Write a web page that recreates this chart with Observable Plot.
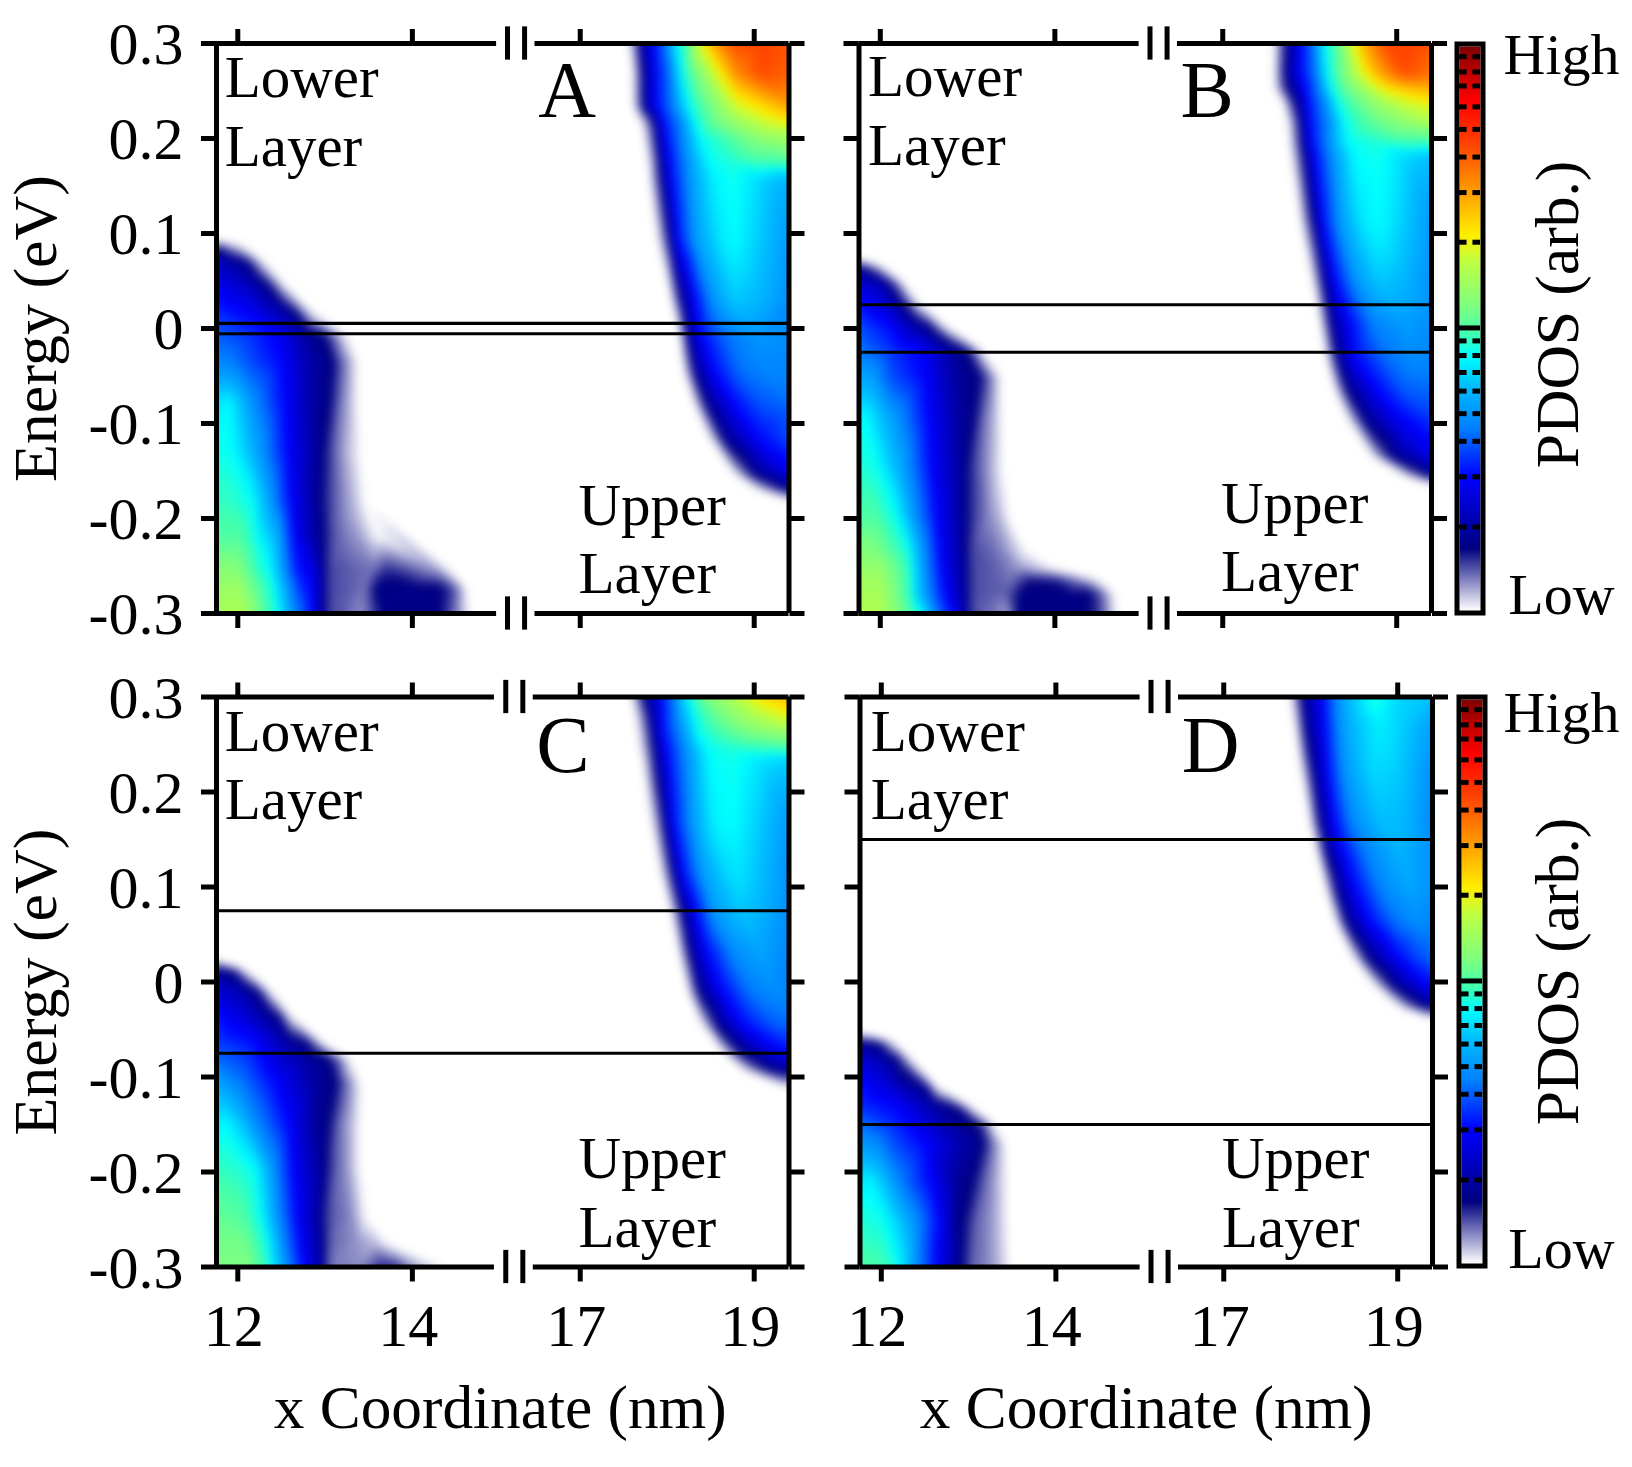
<!DOCTYPE html>
<html><head><meta charset="utf-8">
<script src="https://cdn.jsdelivr.net/npm/d3@7"></script>
<script src="https://cdn.jsdelivr.net/npm/@observablehq/plot@0.6"></script>
<style>html,body{margin:0;background:#fff}#page{position:relative;width:1632px;height:1467px;overflow:hidden;background:#fff}svg{position:absolute;background:transparent!important}</style>
</head><body><div id="page"></div>
<script>
// Each row: [energy (eV), x (nm), PDOS, x, PDOS, ...]; PDOS is the position on the colour bar (0..1)
const lowerA=[
[.092,11.75,0],
[.088,11.75,.08,11.84,.06,11.91,.03,12.03,0],
[.070,11.75,.19,11.91,.15,12.11,.11,12.20,.06,12.30,0],
[.046,11.75,.22,12.0,.19,12.22,.15,12.35,.11,12.43,.06,12.54,0],
[.014,11.75,.27,12.18,.23,12.53,.16,12.70,.11,12.77,.06,12.90,0],
[-.007,11.75,.30,12.14,.27,12.45,.23,12.79,.14,12.98,.11,13.10,.06,13.25,0],
[-.035,11.75,.33,11.88,.33,12.07,.30,12.49,.24,12.83,.15,13.10,.11,13.15,.08,13.33,.02,13.36,0],
[-.077,11.75,.42,11.88,.45,12.03,.40,12.18,.34,12.53,.24,12.83,.15,13.06,.11,13.17,.06,13.29,.03,13.36,0],
[-.13,11.75,.46,11.95,.45,12.22,.37,12.56,.24,12.98,.115,13.06,.08,13.21,.04,13.40,0],
[-.182,11.75,.48,11.92,.48,12.18,.45,12.37,.36,12.60,.24,12.94,.12,13.02,.09,13.21,.05,13.38,.02,13.44,0],
[-.218,11.75,.50,12.03,.50,12.20,.46,12.45,.38,12.64,.24,12.87,.15,13.00,.11,13.06,.08,13.21,.06,13.40,.04,13.60,0],
[-.253,11.75,.55,11.99,.55,12.26,.47,12.37,.45,12.54,.34,12.68,.25,12.83,.22,13.00,.12,13.04,.08,13.29,.07,13.55,.06,13.71,.09,13.97,.07,14.28,.04,14.42,0],
[-.274,11.75,.57,12.0,.58,12.30,.49,12.42,.45,12.58,.35,12.72,.27,12.85,.23,13.0,.12,13.04,.08,13.29,.07,13.46,.06,13.59,.115,13.97,.12,14.32,.115,14.43,.09,14.54,.05,14.62,0],
[-.30,11.75,.59,12.03,.60,12.32,.50,12.47,.45,12.60,.36,12.75,.30,12.83,.24,13.00,.12,13.04,.08,13.21,.07,13.40,.05,13.48,.06,13.67,.115,14.28,.115,14.43,.08,14.55,.04,14.65,0]];
const upperA=[
[.30,17.56,0,17.63,.06,17.68,.11,17.76,.18,17.86,.24,17.99,.33,18.10,.44,18.22,.50,18.41,.66,18.56,.75,18.76,.82,19.06,.83,19.42,.81],
[.269,17.61,0,17.66,.06,17.72,.11,17.87,.24,18.03,.32,18.14,.43,18.22,.48,18.45,.58,18.60,.66,18.79,.76,19.06,.82,19.42,.80],
[.234,17.61,0,17.68,.07,17.74,.13,17.86,.23,18.07,.33,18.20,.42,18.30,.47,18.60,.56,18.79,.63,18.99,.665,19.42,.74],
[.217,17.70,0,17.80,.07,17.86,.12,17.95,.24,18.18,.35,18.32,.45,18.53,.52,18.83,.58,19.14,.63,19.42,.66],
[.199,17.74,0,17.82,.06,17.88,.12,17.99,.24,18.22,.36,18.39,.45,18.68,.49,19.06,.55,19.42,.58],
[.175,17.78,0,17.86,.06,17.91,.12,18.03,.24,18.26,.36,18.49,.45,18.76,.47,19.06,.49,19.42,.50],
[.157,17.80,0,17.87,.06,17.94,.12,18.05,.24,18.28,.36,18.53,.44,18.76,.46,19.06,.42,19.42,.38],
[.094,17.89,0,17.97,.06,18.03,.12,18.12,.24,18.33,.36,18.60,.43,18.76,.45,19.06,.41,19.42,.35],
[.031,18.05,0,18.10,.06,18.16,.12,18.32,.24,18.53,.35,18.76,.41,19.06,.39,19.42,.34],
[-.011,18.16,0,18.20,.08,18.26,.14,18.41,.24,18.68,.31,19.06,.35,19.42,.34],
[-.046,18.20,0,18.26,.06,18.32,.12,18.55,.24,18.83,.31,19.14,.33,19.42,.33],
[-.081,18.32,0,18.39,.06,18.47,.12,18.79,.24,19.06,.29,19.42,.31],
[-.116,18.49,0,18.58,.06,18.66,.12,19.06,.24,19.42,.29],
[-.152,18.76,0,18.87,.06,18.99,.12,19.42,.22],
[-.169,19.02,0,19.18,.06,19.29,.10,19.42,.13],
[-.181,19.42,0]];
const lowerB=[
[.0726,11.75,0],
[.065,11.75,.13,11.92,.06,12.03,0],
[.047,11.75,.20,11.99,.17,12.11,.11,12.20,.06,12.28,0],
[.026,11.75,.25,12.11,.18,12.26,.11,12.35,.06,12.45,0],
[.002,11.75,.29,12.11,.24,12.41,.15,12.58,.11,12.66,.06,12.75,0],
[-.023,11.75,.32,12.14,.27,12.49,.23,12.87,.13,12.98,.11,13.08,.06,13.17,0],
[-.051,11.75,.37,11.92,.36,12.07,.30,12.49,.24,12.83,.15,13.14,.11,13.21,.08,13.34,.02,13.38,0],
[-.093,11.75,.44,11.84,.45,12.07,.38,12.22,.34,12.54,.24,12.87,.15,13.08,.11,13.19,.06,13.31,.03,13.38,0],
[-.146,11.75,.47,11.95,.46,12.22,.38,12.58,.24,12.98,.12,13.04,.09,13.25,.04,13.40,0],
[-.198,11.75,.50,11.95,.50,12.20,.45,12.37,.36,12.64,.24,12.98,.12,13.04,.09,13.25,.05,13.42,.02,13.46,0],
[-.233,11.75,.55,11.95,.54,12.32,.46,12.45,.37,12.68,.24,13.0,.11,13.04,.08,13.33,.06,13.55,.025,13.66,0],
[-.254,11.75,.57,12.0,.57,12.32,.48,12.47,.37,12.68,.25,13.0,.12,13.04,.08,13.30,.07,13.55,.05,13.80,.03,14.03,0],
[-.265,11.75,.58,12.0,.58,12.32,.485,12.47,.375,12.69,.255,13.0,.12,13.04,.08,13.30,.07,13.50,.06,13.75,.105,14.05,.095,14.32,.05,14.50,0],
[-.279,11.75,.59,12.0,.59,12.32,.49,12.47,.38,12.7,.26,13.0,.12,13.04,.08,13.30,.07,13.46,.07,13.62,.115,14.1,.115,14.40,.11,14.50,.08,14.60,.04,14.68,0],
[-.30,11.75,.60,12.0,.60,12.35,.50,12.48,.45,12.62,.34,12.75,.27,12.85,.23,13.0,.12,13.04,.08,13.30,.06,13.45,.04,13.60,.115,14.25,.115,14.45,.10,14.60,.05,14.70,0]];
const upperB=[
[.30,17.59,0,17.66,.06,17.73,.11,17.90,.24,18.06,.33,18.15,.44,18.29,.50,18.52,.66,18.67,.75,18.86,.82,19.17,.83,19.42,.81],
[.269,17.60,0,17.66,.07,17.73,.12,17.90,.24,18.08,.33,18.17,.43,18.29,.49,18.52,.60,18.63,.66,18.82,.74,19.09,.82,19.42,.78],
[.252,17.60,0,17.70,.08,17.79,.13,17.96,.24,18.13,.35,18.25,.45,18.36,.50,18.63,.58,18.79,.64,18.88,.665,19.09,.70,19.42,.72],
[.238,17.70,0,17.77,.07,17.85,.12,17.98,.24,18.19,.35,18.31,.45,18.52,.51,18.82,.58,19.09,.63,19.42,.665],
[.217,17.75,0,17.83,.06,17.89,.12,18.0,.24,18.24,.35,18.39,.45,18.71,.51,19.09,.56,19.42,.60],
[.196,17.77,0,17.85,.06,17.91,.12,18.02,.24,18.25,.36,18.44,.45,18.79,.47,19.09,.49,19.42,.49],
[.182,17.79,0,17.87,.06,17.94,.12,18.06,.24,18.29,.36,18.52,.45,18.79,.46,19.09,.42,19.42,.40],
[.112,17.90,0,17.97,.06,18.05,.12,18.15,.24,18.36,.36,18.59,.43,18.79,.45,19.09,.41,19.42,.35],
[.052,18.03,0,18.10,.06,18.15,.12,18.29,.24,18.52,.35,18.79,.41,19.09,.39,19.42,.34],
[.006,18.13,0,18.19,.07,18.25,.13,18.47,.24,18.74,.33,19.09,.36,19.42,.34],
[-.029,18.19,0,18.25,.06,18.31,.12,18.52,.24,18.86,.31,19.17,.34,19.42,.33],
[-.064,18.29,0,18.36,.06,18.44,.12,18.79,.24,19.09,.30,19.42,.31],
[-.099,18.46,0,18.56,.06,18.66,.12,19.02,.22,19.42,.27],
[-.134,18.71,0,18.82,.06,18.94,.12,19.42,.22],
[-.155,19.09,0,19.21,.06,19.34,.11,19.42,.12],
[-.164,19.42,0]];
const lowerC=[
[.023,11.75,0],
[.012,11.75,.13,11.97,.10,12.04,.04,12.10,0],
[-.009,11.75,.20,12.08,.15,12.22,.11,12.29,.06,12.37,0],
[-.037,11.75,.25,12.08,.20,12.39,.13,12.48,.11,12.54,.06,12.62,0],
[-.065,11.75,.28,12.16,.25,12.58,.15,12.81,.11,12.92,.05,12.98,0],
[-.081,11.75,.31,12.27,.24,12.77,.15,13.04,.11,13.17,.06,13.28,0],
[-.107,11.75,.37,11.89,.35,12.05,.32,12.43,.24,12.85,.15,13.13,.11,13.19,.08,13.34,.03,13.40,0],
[-.149,11.75,.43,11.86,.45,12.05,.40,12.20,.34,12.58,.24,12.85,.15,13.04,.11,13.17,.06,13.30,.03,13.40,0],
[-.195,11.75,.48,12.01,.47,12.20,.45,12.40,.35,12.62,.24,13.02,.115,13.07,.08,13.23,.05,13.40,0],
[-.247,11.75,.52,12.08,.50,12.27,.45,12.43,.36,12.67,.24,12.98,.115,13.02,.08,13.30,.05,13.47,0],
[-.275,11.75,.53,12.08,.53,12.33,.46,12.50,.35,12.71,.24,13.0,.115,13.04,.07,13.38,.045,13.57,.03,13.72,0],
[-.30,11.75,.54,12.12,.54,12.35,.47,12.46,.40,12.73,.25,13.0,.115,13.04,.06,13.38,.05,13.68,.10,13.84,.09,14.06,.04,14.37,0]];
const upperC=[
[.30,17.59,0,17.66,.06,17.74,.12,17.87,.20,18.03,.30,18.16,.40,18.26,.46,18.45,.54,18.76,.60,18.99,.66,19.22,.70,19.42,.72],
[.282,17.63,0,17.72,.06,17.80,.12,17.91,.22,18.14,.36,18.30,.45,18.60,.53,18.99,.60,19.42,.66],
[.261,17.66,0,17.76,.06,17.83,.12,17.95,.24,18.20,.36,18.35,.45,18.68,.50,19.06,.54,19.42,.56],
[.246,17.68,0,17.78,.06,17.86,.12,17.99,.24,18.24,.36,18.45,.45,18.76,.47,19.06,.48,19.42,.50],
[.233,17.72,0,17.80,.06,17.87,.12,18.01,.24,18.26,.36,18.49,.45,18.76,.46,19.06,.43,19.42,.41],
[.167,17.82,0,17.91,.06,17.97,.12,18.07,.24,18.30,.36,18.53,.44,18.76,.45,19.06,.41,19.42,.35],
[.114,17.93,0,18.01,.06,18.07,.12,18.18,.24,18.41,.36,18.68,.42,18.83,.43,19.06,.40,19.42,.34],
[.079,18.03,0,18.10,.06,18.16,.12,18.32,.24,18.53,.36,18.83,.41,19.06,.39,19.42,.34],
[.033,18.14,0,18.19,.06,18.26,.12,18.45,.24,18.76,.34,19.06,.37,19.42,.33],
[-.009,18.24,0,18.30,.06,18.37,.12,18.64,.24,18.95,.32,19.22,.34,19.42,.33],
[-.044,18.39,0,18.49,.06,18.56,.12,18.87,.24,19.22,.30,19.42,.31],
[-.072,18.62,0,18.72,.06,18.83,.12,19.22,.22,19.42,.25],
[-.093,18.87,0,19.02,.06,19.18,.11,19.42,.14],
[-.112,19.42,0]];
const lowerD=[
[-.054,11.75,0],
[-.063,11.75,.13,11.97,.10,12.08,.04,12.14,0],
[-.082,11.75,.20,12.05,.15,12.20,.11,12.27,.06,12.35,0],
[-.111,11.75,.25,12.08,.20,12.43,.13,12.52,.11,12.58,.06,12.64,0],
[-.132,11.75,.27,12.16,.24,12.62,.15,12.85,.11,12.96,.06,13.04,0],
[-.149,11.75,.31,12.16,.26,12.69,.16,13.07,.11,13.19,.07,13.28,0],
[-.170,11.75,.35,11.93,.34,12.08,.30,12.54,.23,12.96,.15,13.17,.11,13.25,.07,13.38,.02,13.42,0],
[-.209,11.75,.43,11.89,.44,12.08,.38,12.20,.33,12.62,.22,12.85,.14,13.06,.11,13.17,.07,13.30,.04,13.44,0],
[-.251,11.75,.47,12.0,.46,12.16,.42,12.43,.33,12.66,.24,12.85,.13,12.96,.11,13.07,.07,13.23,.05,13.38,.02,13.44,0],
[-.30,11.75,.50,12.05,.49,12.20,.45,12.43,.33,12.62,.24,12.88,.13,12.94,.11,13.02,.07,13.23,.05,13.40,.02,13.46,0]];
const upperD=[
[.30,17.77,0,17.84,.06,17.90,.12,18.15,.24,18.28,.33,18.43,.39,18.74,.47,19.01,.42,19.42,.40],
[.272,17.82,0,17.88,.06,17.93,.12,18.16,.24,18.32,.34,18.47,.39,18.78,.44,19.08,.41,19.42,.36],
[.219,17.90,0,17.97,.06,18.03,.12,18.20,.24,18.39,.35,18.70,.42,19.01,.41,19.24,.37,19.42,.33],
[.167,18.0,0,18.05,.06,18.11,.12,18.28,.24,18.47,.33,18.82,.40,19.08,.39,19.42,.33],
[.142,18.07,0,18.11,.06,18.16,.12,18.36,.24,18.62,.33,19.01,.39,19.42,.34],
[.096,18.19,0,18.24,.06,18.30,.12,18.53,.24,18.82,.33,19.16,.37,19.42,.34],
[.061,18.30,0,18.36,.06,18.43,.12,18.70,.24,18.97,.31,19.24,.34,19.42,.33],
[.026,18.49,0,18.57,.06,18.66,.12,19.01,.24,19.24,.29,19.42,.31],
[-.002,18.72,0,18.82,.06,18.93,.12,19.31,.23,19.42,.25],
[-.026,19.01,0,19.14,.06,19.28,.11,19.42,.13],
[-.039,19.42,0]];
const emptyCorners=[[.3,11.75,0,15.5,0],[-.3,15.5,0,19.42,0]];

const colorStops=[0,.11,.237,.324,.40,.45,.49,.54,.62,.665,.77,.83,.905,1];
const colorValues=["#ffffff","#000080","#0000ff","#0080ff","#00bfff","#00ffff","#40ffb0","#7fff7f","#bfff40","#ffef00","#ff8000","#ff4000","#ff0000","#800000"];
const colorbarTicks=[.148,.237,.300,.349,.389,.422,.452,.478,.653,.741,.804,.853,.893,.930,.955,.982];
const colorbarSolid=[.501];
const yTicks=[-.3,-.2,-.1,0,.1,.2,.3];
const xTicks=[12,14,17,19];
const xDomain=[11.756,15.17,16.25,19.4];
const xRangeOffsets=[0,298,298.5,572.5];
const serif="Liberation Serif";
const color={type:"linear",domain:colorStops,range:colorValues,interpolate:"rgb",clamp:true};

function flat(rows){const out=[];for(const r of rows)for(let i=1;i<r.length;i+=2)out.push({y:r[0],x:r[i],v:r[i+1]});return out;}
const fmt=d=>d===0?"0":d.toFixed(1);
const blank=()=>"";
const page=document.getElementById("page");
function place(svg,left,top){svg.style.left=left+"px";svg.style.top=top+"px";page.appendChild(svg);}

function panel(o){
  const pts=flat([...o.lower,...o.upper,...emptyCorners]);
  const left=o.frameLeft-o.svgLeft, top=o.frameTop-o.svgTop;
  const marks=[
    Plot.raster(pts,{x:"x",y:"y",fill:"v",interpolate:"barycentric",pixelSize:1,blur:4,imageRendering:"auto",x1:xDomain[0],x2:19.4,y1:-.3,y2:.3}),
    Plot.ruleY(o.lines,{strokeWidth:3.2,stroke:"#000"}),
    Plot.ruleX([xDomain[0],19.4],{strokeWidth:5,stroke:"#000"}),
    Plot.ruleY([.3,-.3],{x1:xDomain[0],x2:o.gap[0],strokeWidth:5,stroke:"#000"}),
    Plot.ruleY([.3,-.3],{x1:o.gap[1],x2:19.4,strokeWidth:5,stroke:"#000"}),
    Plot.ruleX(o.bars,{y1:.3-.0175,y2:.3+.0175,strokeWidth:5,stroke:"#000"}),
    Plot.ruleX(o.bars,{y1:-.3-.0175,y2:-.3+.0175,strokeWidth:5,stroke:"#000"}),
    Plot.axisX({anchor:"top",ticks:xTicks,tickSize:15,tickFormat:blank,label:null,strokeWidth:5}),
    Plot.axisX({anchor:"bottom",ticks:xTicks,tickSize:15,tickFormat:blank,label:null,strokeWidth:5}),
    Plot.axisY({anchor:"right",ticks:yTicks,tickSize:15,tickFormat:blank,label:null,strokeWidth:5}),
    Plot.axisY({anchor:"left",ticks:yTicks,tickSize:15,tickFormat:blank,label:null,strokeWidth:5}),
    Plot.text(["Lower"],{x:()=>o.labelX,y:()=>o.lowerE[0],text:d=>d,textAnchor:"start",lineAnchor:"bottom",fontSize:59}),
    Plot.text(["Layer"],{x:()=>o.labelX,y:()=>o.lowerE[1],text:d=>d,textAnchor:"start",lineAnchor:"bottom",fontSize:59}),
    Plot.text(["Upper"],{x:()=>16.98,y:()=>o.upperE[0],text:d=>d,textAnchor:"start",lineAnchor:"bottom",fontSize:59}),
    Plot.text(["Layer"],{x:()=>16.98,y:()=>o.upperE[1],text:d=>d,textAnchor:"start",lineAnchor:"bottom",fontSize:59}),
    Plot.text([o.letter],{x:()=>o.letterX,y:()=>o.letterE,text:d=>d,textAnchor:"middle",lineAnchor:"bottom",fontSize:80}),
  ];
  if(o.yLabels){
    marks.push(Plot.axisY({anchor:"left",ticks:yTicks,tickSize:0,tickPadding:33,label:null,tickFormat:fmt,fontSize:60,fill:"#000",dy:1.5}));
    marks.push(Plot.text(["Energy (eV)"],{frameAnchor:"left",text:d=>d,rotate:-90,textAnchor:"middle",lineAnchor:"bottom",dx:-161,fontSize:62}));
  }
  if(o.bottom){
    marks.push(Plot.axisX({anchor:"bottom",ticks:xTicks,tickSize:0,tickPadding:36,label:null,tickFormat:d=>String(d),fontSize:60,fill:"#000",dx:-4}));
    marks.push(Plot.text(["x Coordinate (nm)"],{frameAnchor:"bottom",text:d=>d,textAnchor:"middle",lineAnchor:"bottom",dy:161,dx:o.titleDx,fontSize:61.3}));
  }
  const svg=Plot.plot({
    width:o.svgWidth,height:o.svgHeight,
    marginLeft:left,marginRight:o.svgWidth-left-572.5,marginTop:top,marginBottom:o.svgHeight-top-o.frameH,
    x:{type:"linear",domain:xDomain,range:xRangeOffsets.map(d=>d+left)},
    y:{domain:[-.3,.3]},color,
    style:{fontFamily:serif,background:"transparent",color:"#000",overflow:"visible"},
    marks});
  place(svg,o.svgLeft,o.svgTop);
}
function colorbar(o){
  const svg=Plot.plot({
    width:192,height:o.h+100,marginLeft:o.left-1440,marginRight:192-(o.left-1440)-21,marginTop:50,marginBottom:50,
    x:{domain:[0,1],axis:null},y:{domain:[0,1],axis:null},color,
    style:{fontFamily:serif,background:"transparent",color:"#000",overflow:"visible"},
    marks:[
      Plot.raster({x1:0,x2:1,y1:0,y2:1,fill:(x,y)=>y,pixelSize:1,width:21,height:o.h}),
      Plot.ruleY(colorbarTicks,{x1:0,x2:.36,strokeWidth:5,stroke:"#000"}),
      Plot.ruleY(colorbarTicks,{x1:.64,x2:1,strokeWidth:5,stroke:"#000"}),
      Plot.ruleY(colorbarSolid,{strokeWidth:5,stroke:"#000"}),
      Plot.frame({stroke:"#000",strokeWidth:5,inset:-2.5}),
      Plot.text(["High"],{frameAnchor:"top",text:d=>d,textAnchor:"middle",lineAnchor:"bottom",dx:1561-(o.left+10.5),dy:o.highDy,fontSize:58}),
      Plot.text(["Low"],{frameAnchor:"bottom",text:d=>d,textAnchor:"middle",lineAnchor:"bottom",dx:1561-(o.left+10.5),dy:o.lowDy,fontSize:58}),
      Plot.text(["PDOS (arb.)"],{frameAnchor:"middle",text:d=>d,rotate:-90,textAnchor:"middle",lineAnchor:"bottom",dx:1577-(o.left+10.5),dy:o.pdosDy,fontSize:61.5}),
    ]});
  place(svg,1440,o.top-50);
}
const common={labelX:11.85,lowerE:[.2435,.1715],upperE:[-.2067,-.2787],gap:[14.965,16.48],bars:[15.09,16.36],frameH:570,titleDx:0,letterE:.223};
panel({...common,lower:lowerA,upper:upperA,lines:[.0055,-.0055],letter:"A",letterX:16.85,frameLeft:216,frameTop:43,svgLeft:0,svgTop:0,svgWidth:820,svgHeight:660,yLabels:true,bottom:false});
panel({...common,lower:lowerB,upper:upperB,lines:[.025,-.025],letter:"B",letterX:16.82,frameLeft:858.5,frameTop:43,svgLeft:820,svgTop:0,svgWidth:625,svgHeight:660,yLabels:false,bottom:false,labelX:11.86,lowerE:[.2445,.1725],upperE:[-.2047,-.2767]});
panel({...common,lower:lowerC,upper:upperC,lines:[.075,-.075],letter:"C",letterX:16.80,frameLeft:216,frameTop:696.5,svgLeft:0,svgTop:660,svgWidth:820,svgHeight:807,yLabels:true,bottom:true,gap:[14.94,16.46],bars:[15.07,16.34],titleDx:-2.5,letterE:.221});
panel({...common,lower:lowerD,upper:upperD,lines:[.15,-.15],letter:"D",letterX:16.85,frameLeft:859.5,frameTop:696.5,svgLeft:820,svgTop:660,svgWidth:625,svgHeight:807,yLabels:false,bottom:true,labelX:11.88,letterE:.221});
colorbar({left:1459,top:46,h:564,highDy:27,lowDy:3,pdosDy:-14});
colorbar({left:1461,top:699,h:564,highDy:32,lowDy:4,pdosDy:-10});
</script></body></html>
